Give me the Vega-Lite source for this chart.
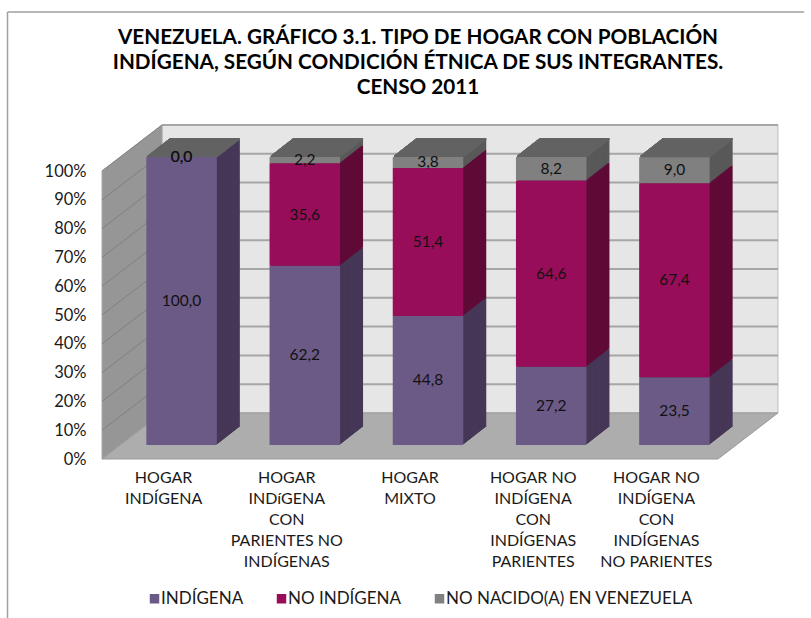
{
"$schema":"https://vega.github.io/schema/vega-lite/v6.json",
"width":616,"height":288,
"autosize":{"type":"none"},
"padding":{"left":102,"top":171,"right":93,"bottom":159},
"background":"white",
"config":{"view":{"stroke":null},"font":"Lato"},
"title":{"text":["VENEZUELA. GRÁFICO 3.1. TIPO DE HOGAR CON POBLACIÓN","INDÍGENA, SEGÚN CONDICIÓN ÉTNICA DE SUS INTEGRANTES.","CENSO 2011"],"font":"Lato","fontSize":20.7,"fontWeight":"bold","color":"#000000","anchor":"middle","dx":8,"offset":-87,"lineHeight":25},
"datasets":{
"filas":[
{"hogar":"HOGAR INDÍGENA","serie":"INDÍGENA","valor":100.0,"rotulo":"100,0"},
{"hogar":"HOGAR INDÍGENA","serie":"NO INDÍGENA","valor":0.0,"rotulo":"0,0"},
{"hogar":"HOGAR INDÍGENA","serie":"NO NACIDO(A) EN VENEZUELA","valor":0.0,"rotulo":"0,0"},
{"hogar":"HOGAR INDíGENA CON PARIENTES NO INDÍGENAS","serie":"INDÍGENA","valor":62.2,"rotulo":"62,2"},
{"hogar":"HOGAR INDíGENA CON PARIENTES NO INDÍGENAS","serie":"NO INDÍGENA","valor":35.6,"rotulo":"35,6"},
{"hogar":"HOGAR INDíGENA CON PARIENTES NO INDÍGENAS","serie":"NO NACIDO(A) EN VENEZUELA","valor":2.2,"rotulo":"2,2"},
{"hogar":"HOGAR MIXTO","serie":"INDÍGENA","valor":44.8,"rotulo":"44,8"},
{"hogar":"HOGAR MIXTO","serie":"NO INDÍGENA","valor":51.4,"rotulo":"51,4"},
{"hogar":"HOGAR MIXTO","serie":"NO NACIDO(A) EN VENEZUELA","valor":3.8,"rotulo":"3,8"},
{"hogar":"HOGAR NO INDÍGENA CON INDÍGENAS PARIENTES","serie":"INDÍGENA","valor":27.2,"rotulo":"27,2"},
{"hogar":"HOGAR NO INDÍGENA CON INDÍGENAS PARIENTES","serie":"NO INDÍGENA","valor":64.6,"rotulo":"64,6"},
{"hogar":"HOGAR NO INDÍGENA CON INDÍGENAS PARIENTES","serie":"NO NACIDO(A) EN VENEZUELA","valor":8.2,"rotulo":"8,2"},
{"hogar":"HOGAR NO INDÍGENA CON INDÍGENAS NO PARIENTES","serie":"INDÍGENA","valor":23.5,"rotulo":"23,5"},
{"hogar":"HOGAR NO INDÍGENA CON INDÍGENAS NO PARIENTES","serie":"NO INDÍGENA","valor":67.4,"rotulo":"67,4"},
{"hogar":"HOGAR NO INDÍGENA CON INDÍGENAS NO PARIENTES","serie":"NO NACIDO(A) EN VENEZUELA","valor":9.0,"rotulo":"9,0"}
],
"pared":[{"u":0,"b":0,"t":100},{"u":0.487,"b":16,"t":116}],
"piso":[{"u":0,"b":0,"t":0},{"u":0.487,"b":0,"t":16},{"u":5,"b":0,"t":16},{"u":5.487,"b":16,"t":16}],
"fondo":[{"u":0.487,"b":16,"t":116},{"u":5.487,"b":16,"t":116}],
"marcas":[{"m":0},{"m":10},{"m":20},{"m":30},{"m":40},{"m":50},{"m":60},{"m":70},{"m":80},{"m":90},{"m":100}]
},
"resolve":{"scale":{"x":"independent"}},
"layer":[
{
"layer":[
{"data":{"name":"fondo"},"mark":{"type":"area","color":"#e6e6e6","stroke":"#bdbdbd","strokeWidth":1},
 "encoding":{"x":{"field":"u","type":"quantitative","scale":{"domain":[0,5],"nice":false,"clamp":false},"axis":null},
 "y":{"field":"b","type":"quantitative","scale":{"domain":[0,100],"nice":false},"axis":{"values":[0,10,20,30,40,50,60,70,80,90,100],"tickCount":11,"labelExpr":"datum.value+'%'","title":null,"grid":false,"domain":false,"ticks":false,"labelPadding":16,"labelFontSize":16.5,"labelFont":"Lato","labelColor":"#1a1a1a","labelOverlap":false}},"y2":{"field":"t"}}},
{"data":{"name":"pared"},"mark":{"type":"area","color":"#969696","stroke":"#a8a8a8","strokeWidth":1},
 "encoding":{"x":{"field":"u","type":"quantitative"},"y":{"field":"b","type":"quantitative"},"y2":{"field":"t"}}},
{"data":{"name":"piso"},"mark":{"type":"area","color":"#adadad","stroke":"#999999","strokeWidth":1},
 "encoding":{"x":{"field":"u","type":"quantitative"},"y":{"field":"b","type":"quantitative"},"y2":{"field":"t"}}},
{"data":{"name":"marcas"},"transform":[{"filter":"datum.m>0"}],"mark":{"type":"rule","color":"#a6a6a6","strokeWidth":2,"yOffset":-46,"y2Offset":-46},
 "encoding":{"x":{"datum":0.487,"type":"quantitative"},"x2":{"datum":5.487},"y":{"field":"m","type":"quantitative"}}},
{"data":{"name":"marcas"},"transform":[{"filter":"datum.m>0"}],"mark":{"type":"rule","color":"#808080","strokeWidth":1,"y2Offset":-46},
 "encoding":{"x":{"datum":0,"type":"quantitative"},"x2":{"datum":0.487},"y":{"field":"m","type":"quantitative"},"y2":{"field":"m"}}},
{"data":{"values":[{"f":1}]},"mark":{"type":"rule","color":"#a0a0a0","strokeWidth":1.5},
 "encoding":{"x":{"datum":-0.767,"type":"quantitative"},"x2":{"datum":5.7},"y":{"datum":155.2,"type":"quantitative"}}},
{"data":{"values":[{"f":1}]},"mark":{"type":"rule","color":"#a0a0a0","strokeWidth":1.5},
 "encoding":{"x":{"datum":-0.767,"type":"quantitative"},"y":{"datum":155.2,"type":"quantitative"},"y2":{"datum":-56}}}
]
},
{
"data":{"name":"filas"},
"encoding":{
 "x":{"field":"hogar","type":"nominal","sort":null,"scale":{"paddingInner":0,"paddingOuter":0},"axis":{"title":null,"orient":"bottom","domain":false,"ticks":false,"labelAngle":0,"labelPadding":10,"labelFontSize":16,"labelFont":"Lato","labelColor":"#1a1a1a","labelLineHeight":21,"labelBaseline":"top","labelExpr":"{'HOGAR INDÍGENA':['HOGAR','INDÍGENA'],'HOGAR INDíGENA CON PARIENTES NO INDÍGENAS':['HOGAR','INDíGENA','CON','PARIENTES NO','INDÍGENAS'],'HOGAR MIXTO':['HOGAR','MIXTO'],'HOGAR NO INDÍGENA CON INDÍGENAS PARIENTES':['HOGAR NO','INDÍGENA','CON','INDÍGENAS','PARIENTES'],'HOGAR NO INDÍGENA CON INDÍGENAS NO PARIENTES':['HOGAR NO','INDÍGENA','CON','INDÍGENAS','NO PARIENTES']}[datum.value]"}},
 "y":{"field":"valor","type":"quantitative","stack":"zero","axis":{"values":[0,10,20,30,40,50,60,70,80,90,100],"tickCount":11,"labelExpr":"datum.value+'%'","title":null,"grid":false,"domain":false,"ticks":false,"labelPadding":16,"labelFontSize":16.5,"labelFont":"Lato","labelColor":"#1a1a1a","labelOverlap":false}},
 "order":{"field":"serie","sort":"ascending"}
},
"layer":[
{"encoding":{"fill":{"field":"serie","type":"nominal","scale":{"domain":["NO NACIDO(A) EN VENEZUELA","NO INDÍGENA","INDÍGENA"],"range":["#595959","#5f0a37","#463757"]},"legend":null}},
 "layer":[
{"mark":{"type":"bar","width":70.5,"xOffset":41,"yOffset":-32,"y2Offset":-32}},
{"mark":{"type":"bar","width":70.5,"xOffset":39.72,"yOffset":-31,"y2Offset":-31}},
{"mark":{"type":"bar","width":70.5,"xOffset":38.44,"yOffset":-30,"y2Offset":-30}},
{"mark":{"type":"bar","width":70.5,"xOffset":37.17,"yOffset":-29,"y2Offset":-29}},
{"mark":{"type":"bar","width":70.5,"xOffset":35.89,"yOffset":-28,"y2Offset":-28}},
{"mark":{"type":"bar","width":70.5,"xOffset":34.61,"yOffset":-27,"y2Offset":-27}},
{"mark":{"type":"bar","width":70.5,"xOffset":33.33,"yOffset":-26,"y2Offset":-26}},
{"mark":{"type":"bar","width":70.5,"xOffset":32.06,"yOffset":-25,"y2Offset":-25}},
{"mark":{"type":"bar","width":70.5,"xOffset":30.78,"yOffset":-24,"y2Offset":-24}},
{"mark":{"type":"bar","width":70.5,"xOffset":29.5,"yOffset":-23,"y2Offset":-23}},
{"mark":{"type":"bar","width":70.5,"xOffset":28.22,"yOffset":-22,"y2Offset":-22}},
{"mark":{"type":"bar","width":70.5,"xOffset":26.94,"yOffset":-21,"y2Offset":-21}},
{"mark":{"type":"bar","width":70.5,"xOffset":25.67,"yOffset":-20,"y2Offset":-20}},
{"mark":{"type":"bar","width":70.5,"xOffset":24.39,"yOffset":-19,"y2Offset":-19}},
{"mark":{"type":"bar","width":70.5,"xOffset":23.11,"yOffset":-18,"y2Offset":-18}},
{"mark":{"type":"bar","width":70.5,"xOffset":21.83,"yOffset":-17,"y2Offset":-17}},
{"mark":{"type":"bar","width":70.5,"xOffset":20.56,"yOffset":-16,"y2Offset":-16}},
{"mark":{"type":"bar","width":70.5,"xOffset":19.28,"yOffset":-15,"y2Offset":-15}}
]},
{"encoding":{"y":{"datum":100,"type":"quantitative"},"size":{"value":70.5},"order":null},
 "layer":[
 {"mark":{"type":"tick","orient":"horizontal","color":"#636363","opacity":1,"thickness":1.5,"xOffset":41,"yOffset":-32}},
 {"mark":{"type":"tick","orient":"horizontal","color":"#636363","opacity":1,"thickness":1.5,"xOffset":39.72,"yOffset":-31}},
 {"mark":{"type":"tick","orient":"horizontal","color":"#636363","opacity":1,"thickness":1.5,"xOffset":38.44,"yOffset":-30}},
 {"mark":{"type":"tick","orient":"horizontal","color":"#636363","opacity":1,"thickness":1.5,"xOffset":37.17,"yOffset":-29}},
 {"mark":{"type":"tick","orient":"horizontal","color":"#636363","opacity":1,"thickness":1.5,"xOffset":35.89,"yOffset":-28}},
 {"mark":{"type":"tick","orient":"horizontal","color":"#636363","opacity":1,"thickness":1.5,"xOffset":34.61,"yOffset":-27}},
 {"mark":{"type":"tick","orient":"horizontal","color":"#636363","opacity":1,"thickness":1.5,"xOffset":33.33,"yOffset":-26}},
 {"mark":{"type":"tick","orient":"horizontal","color":"#636363","opacity":1,"thickness":1.5,"xOffset":32.06,"yOffset":-25}},
 {"mark":{"type":"tick","orient":"horizontal","color":"#636363","opacity":1,"thickness":1.5,"xOffset":30.78,"yOffset":-24}},
 {"mark":{"type":"tick","orient":"horizontal","color":"#636363","opacity":1,"thickness":1.5,"xOffset":29.5,"yOffset":-23}},
 {"mark":{"type":"tick","orient":"horizontal","color":"#636363","opacity":1,"thickness":1.5,"xOffset":28.22,"yOffset":-22}},
 {"mark":{"type":"tick","orient":"horizontal","color":"#636363","opacity":1,"thickness":1.5,"xOffset":26.94,"yOffset":-21}},
 {"mark":{"type":"tick","orient":"horizontal","color":"#636363","opacity":1,"thickness":1.5,"xOffset":25.67,"yOffset":-20}},
 {"mark":{"type":"tick","orient":"horizontal","color":"#636363","opacity":1,"thickness":1.5,"xOffset":24.39,"yOffset":-19}},
 {"mark":{"type":"tick","orient":"horizontal","color":"#636363","opacity":1,"thickness":1.5,"xOffset":23.11,"yOffset":-18}},
 {"mark":{"type":"tick","orient":"horizontal","color":"#636363","opacity":1,"thickness":1.5,"xOffset":21.83,"yOffset":-17}},
 {"mark":{"type":"tick","orient":"horizontal","color":"#636363","opacity":1,"thickness":1.5,"xOffset":20.56,"yOffset":-16}},
 {"mark":{"type":"tick","orient":"horizontal","color":"#636363","opacity":1,"thickness":1.5,"xOffset":19.28,"yOffset":-15}}
 ]},
{"mark":{"type":"bar","width":70.5,"xOffset":18,"yOffset":-14,"y2Offset":-14},
 "encoding":{
 "color":{"field":"serie","type":"nominal","scale":{"domain":["INDÍGENA","NO INDÍGENA","NO NACIDO(A) EN VENEZUELA"],"range":["#6b5a86","#980d59","#808080"]},
  "legend":{"title":null,"orient":"none","direction":"horizontal","legendX":44,"legendY":419,"symbolType":"square","symbolSize":90,"labelFontSize":17,"labelFont":"Lato","labelColor":"#1a1a1a","columnPadding":29,"labelOffset":-2,"labelLimit":400,"symbolOpacity":1}}}},
{"mark":{"type":"text","font":"Lato","fontSize":15.5,"color":"#111111","xOffset":18,"yOffset":-14},
 "encoding":{"y":{"field":"valor","type":"quantitative","stack":"zero","bandPosition":0.5},"detail":{"field":"serie"},"text":{"field":"rotulo"}}}
]
}
]
}
